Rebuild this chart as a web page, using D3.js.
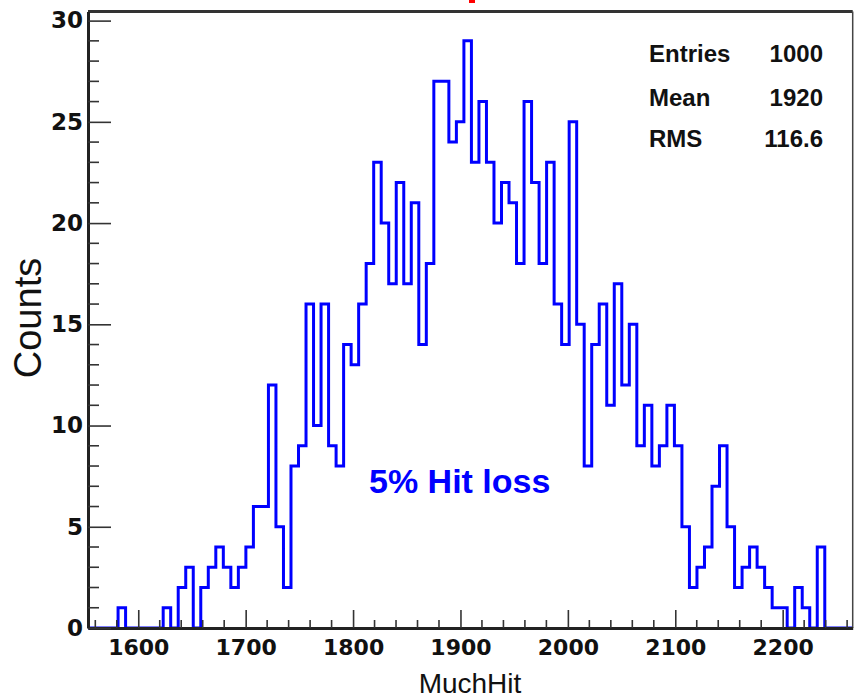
<!DOCTYPE html>
<html>
<head>
<meta charset="utf-8">
<script src="https://cdn.jsdelivr.net/npm/d3@7"></script>
<style>
  html, body { margin: 0; padding: 0; background: #fff; }
  svg { display: block; }
</style>
</head>
<body>
<svg id="chart" width="854" height="698"></svg>
<script>
// Histogram of MuchHit: bin contents, left to right
const binStart = 1553.2;
const binWidth = 7.0;
const counts = [
  0, 0, 0, 0, 1, 0, 0, 0, 0, 0,
  1, 0, 2, 3, 0, 2, 3, 4, 3, 2,
  3, 4, 6, 6, 12, 5, 2, 8, 9, 16,
  10, 16, 9, 8, 14, 13, 16, 18, 23, 20,
  17, 22, 17, 21, 14, 18, 27, 27, 24, 25,
  29, 23, 26, 23, 20, 22, 21, 18, 26, 22,
  18, 23, 16, 14, 25, 15, 8, 14, 16, 11,
  17, 12, 15, 9, 11, 8, 9, 11, 9, 5,
  2, 3, 4, 7, 9, 5, 2, 3, 4, 3,
  2, 1, 1, 0, 2, 1, 0, 4
];
const xDomain = [1553.2, 2265.2];
const yDomain = [0, 30.45];
const xMajorTicks = [1600, 1700, 1800, 1900, 2000, 2100, 2200];
const yMajorTicks = [0, 5, 10, 15, 20, 25, 30];
const statLabels = ["Entries", "Mean", "RMS"];
const statValues = ["1000", "1920", "116.6"];
const xTitle = "MuchHit";
const yTitle = "Counts";
const note = "5% Hit loss";

const SANS = "'Liberation Sans', Arial, Helvetica, sans-serif";
const WIDE = "'DejaVu Sans', sans-serif";

const svg = d3.select("#chart").style("font-family", SANS);
const L = 88, R = 852.7, T = 11.5, B = 628;

const x = d3.scaleLinear().domain(xDomain).range([L, R]);
const y = d3.scaleLinear().domain(yDomain).range([B, T]);

// cut-off title fragment at the top edge
svg.append("rect").attr("x", 469).attr("y", 0).attr("width", 6).attr("height", 3).attr("fill", "#ff0000");

// histogram outline
const pts = counts.map((c, i) => [binStart + i * binWidth, c]);
pts.push([binStart + counts.length * binWidth, 0]);
pts.push([xDomain[1], 0]);
const line = d3.line().x(d => x(d[0])).y(d => y(d[1])).curve(d3.curveStepAfter);
svg.append("defs").append("clipPath").attr("id", "frameClip")
  .append("rect").attr("x", L).attr("y", T).attr("width", R - L).attr("height", B - T + 2);
svg.append("path")
  .attr("d", line(pts))
  .attr("fill", "none")
  .attr("stroke", "#0000ff")
  .attr("stroke-width", 3)
  .attr("clip-path", "url(#frameClip)");

// frame
svg.append("line").attr("x1", L).attr("x2", R).attr("y1", T).attr("y2", T)
  .attr("stroke", "#333").attr("stroke-width", 3);
svg.append("line").attr("x1", R).attr("x2", R).attr("y1", T).attr("y2", B)
  .attr("stroke", "#444").attr("stroke-width", 1.5);

// x axis: ticks point up into the frame
const xMinor = d3.range(1560, 2265, 20).filter(v => v % 100 !== 0);
const xAxis = d3.axisBottom(x).tickValues(xMajorTicks).tickSizeInner(-18).tickSizeOuter(0)
  .tickPadding(11).tickFormat(d3.format("d"));
const gx = svg.append("g").attr("transform", `translate(0,${B})`).call(xAxis);
gx.select(".domain").attr("stroke", "#222").attr("stroke-width", 3);
gx.selectAll(".tick line").attr("stroke", "#333").attr("stroke-width", 1.6);
gx.selectAll(".tick text").style("font-family", WIDE).style("font-size", "22px")
  .style("font-weight", "bold").attr("fill", "#111");
gx.selectAll(".minor").data(xMinor).enter().append("line")
  .attr("class", "minor")
  .attr("x1", d => x(d)).attr("x2", d => x(d)).attr("y1", 0).attr("y2", -8)
  .attr("stroke", "#333").attr("stroke-width", 1.6);

// y axis: ticks point right into the frame
const yMinor = d3.range(1, 31).filter(v => v % 5 !== 0);
const yAxis = d3.axisLeft(y).tickValues(yMajorTicks).tickSizeInner(-23).tickSizeOuter(0)
  .tickPadding(5).tickFormat(d3.format("d"));
const gy = svg.append("g").attr("transform", `translate(${L},0)`).call(yAxis);
gy.select(".domain").attr("stroke", "#222").attr("stroke-width", 3);
gy.selectAll(".tick line").attr("stroke", "#333").attr("stroke-width", 1.6);
gy.selectAll(".tick text").style("font-family", WIDE).style("font-size", "23px")
  .style("font-weight", "bold").attr("fill", "#111");
gy.selectAll(".minor").data(yMinor).enter().append("line")
  .attr("class", "minor")
  .attr("x1", 0).attr("x2", 11).attr("y1", d => y(d)).attr("y2", d => y(d))
  .attr("stroke", "#333").attr("stroke-width", 1.6);

// axis titles
svg.append("text").attr("x", 470).attr("y", 693).attr("text-anchor", "middle")
  .style("font-size", "28px").attr("fill", "#111").text(xTitle);
svg.append("text").attr("transform", "translate(41,318) rotate(-90)").attr("text-anchor", "middle")
  .style("font-size", "38px").attr("fill", "#111").text(yTitle);

// statistics
const statY = [61.5, 106, 146.5];
statLabels.forEach((s, i) => {
  svg.append("text").attr("x", 649).attr("y", statY[i]).style("font-size", "24px")
    .style("font-weight", "bold").attr("fill", "#111").text(s);
  svg.append("text").attr("x", 823).attr("y", statY[i]).style("font-size", "24px")
    .style("font-weight", "bold").attr("fill", "#111").attr("text-anchor", "end").text(statValues[i]);
});

// annotation
svg.append("text").attr("x", 369).attr("y", 493).style("font-size", "34px")
  .style("font-weight", "bold").attr("fill", "#0000ff").text(note);
</script>
</body>
</html>
